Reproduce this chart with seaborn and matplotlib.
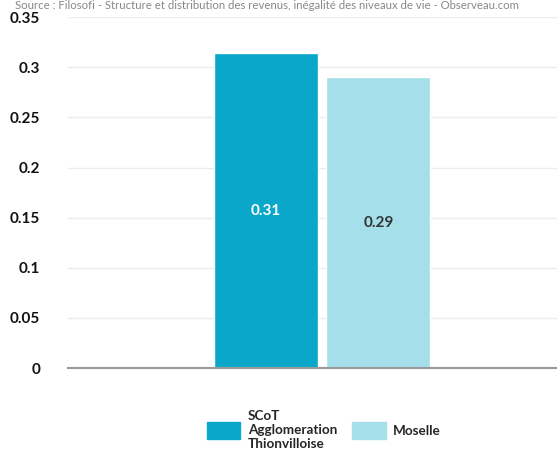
import matplotlib
matplotlib.use("Agg")
import matplotlib.pyplot as plt
import seaborn as sns

# données
territoires = ["SCoT\nAgglomeration\nThionvilloise", "Moselle"]
valeurs = [0.314, 0.29]
etiquettes = ["0.31", "0.29"]
couleurs = ["#0aa7cb", "#a5dfea"]
yticks = [0, 0.05, 0.1, 0.15, 0.2, 0.25, 0.3, 0.35]
ytick_labels = ["0", "0.05", "0.1", "0.15", "0.2", "0.25", "0.3", "0.35"]
source = "Source : Filosofi - Structure et distribution des revenus, inégalité des niveaux de vie - Observeau.com"

sns.set_style("white")
plt.rcParams["font.family"] = ["Lato", "DejaVu Sans"]

fig = plt.figure(figsize=(5.57, 4.51), dpi=100)
ax = fig.add_axes([0.122, 0.184, 0.878, 0.778])

sns.barplot(x=territoires, y=valeurs, hue=territoires, palette=couleurs,
            width=0.924, dodge=False, legend=False, ax=ax, saturation=1)

ax.set_xlim(-1.76, 2.587)
ax.set_ylim(0, 0.35)
ax.set_yticks(yticks)
ax.set_yticklabels(ytick_labels, fontsize=11, fontweight="bold", color="#111111")
ax.tick_params(axis="y", length=0, pad=20)
ax.set_xticks([])
ax.grid(axis="y", color="#ececec", linewidth=1)
ax.set_axisbelow(True)
for s in ["top", "right", "left"]:
    ax.spines[s].set_visible(False)
ax.spines["bottom"].set_color("#999999")
ax.spines["bottom"].set_linewidth(1.5)

# valeurs dans les barres
ax.text(0, valeurs[0] / 2, etiquettes[0], ha="center", va="center",
        fontsize=11, fontweight="bold", color="white")
ax.text(1, valeurs[1] / 2, etiquettes[1], ha="center", va="center",
        fontsize=11, fontweight="bold", color="#333333")

# légende
handles = [plt.Rectangle((0, 0), 1, 1, color=c) for c in couleurs]
fig.legend(handles, territoires, loc="center", bbox_to_anchor=(0.581, 0.047),
           ncol=2, frameon=False, prop={"size": 9.7, "weight": "bold"},
           handlelength=2.5, handleheight=1.5, handletextpad=0.55,
           columnspacing=1.1, labelspacing=0.2)

fig.text(0.48, 0.999, source, fontsize=8.2, color="#888888", va="top", ha="center")

fig.savefig("out.png", dpi=100)
